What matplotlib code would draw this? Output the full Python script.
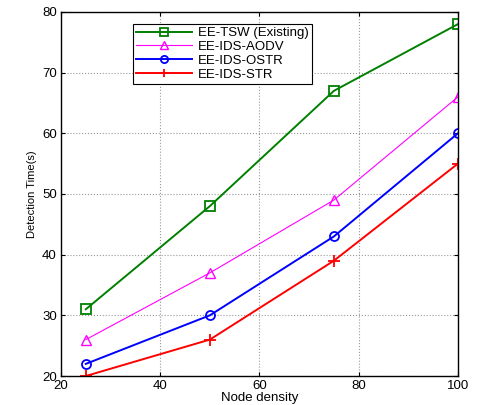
import matplotlib
matplotlib.use("Agg")
import matplotlib.pyplot as plt

plt.rcParams["font.family"] = ["Liberation Sans", "DejaVu Sans"]

node_density = [25, 50, 75, 100]
tsw = [31, 48, 67, 78]
aodv = [26, 37, 49, 66]
ostr = [22, 30, 43, 60]
str_ = [20, 26, 39, 55]

fig = plt.figure(figsize=(4.82, 4.05), dpi=100)
ax = fig.add_axes([0.1266, 0.0716, 0.8234, 0.8988])

ax.plot(node_density, tsw, color="#008000", marker="s", mfc="none", ms=6.5, mew=1.3, lw=1.4, label="EE-TSW (Existing)")
ax.plot(node_density, aodv, color="#ff00ff", marker="^", mfc="none", ms=7, mew=1.0, lw=0.8, label="EE-IDS-AODV")
ax.plot(node_density, ostr, color="#0000ff", marker="o", mfc="none", ms=6.5, mew=1.3, lw=1.4, label="EE-IDS-OSTR")
ax.plot(node_density, str_, color="#ff0000", marker="+", ms=8, mew=1.3, lw=1.4, label="EE-IDS-STR")

ax.set_xlim(20, 100)
ax.set_ylim(20, 80)
ax.set_xticks([20, 40, 60, 80, 100])
ax.set_yticks([20, 30, 40, 50, 60, 70, 80])
ax.grid(True, color="#999999", linestyle=":", linewidth=0.8)
ax.tick_params(direction="in", length=3, labelsize=9.5, top=True, right=True, pad=3)
for s in ax.spines.values():
    s.set_linewidth(1.0)

ax.set_xlabel("Node density", fontsize=9.5, labelpad=0)
ax.set_ylabel("Detection Time(s)", fontsize=8, labelpad=4)

leg = ax.legend(loc="upper left", bbox_to_anchor=(0.181, 0.968), fontsize=9.5, frameon=True,
                fancybox=False, edgecolor="black", framealpha=1, borderpad=0.25,
                labelspacing=0.12, handlelength=4.2, handletextpad=0.5, borderaxespad=0,
                markerscale=0.8)
leg.get_frame().set_linewidth(0.8)

fig.savefig("out.png", dpi=100)
